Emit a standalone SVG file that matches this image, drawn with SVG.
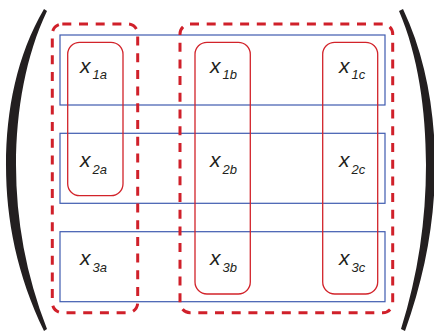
<svg xmlns="http://www.w3.org/2000/svg" width="434" height="331" viewBox="0 0 434 331">
<style>
.row{fill:none;stroke:#3f5bb0;stroke-width:1.2}
.col{fill:none;stroke:#d2232a;stroke-width:1.3}
.grp{fill:none;stroke:#d0202a;stroke-width:3;stroke-dasharray:9 7.7}
.par{fill:#231f20}
.lbl{font-family:"Liberation Sans",Arial,sans-serif;font-style:italic;font-size:21px;fill:#231f20}
.sub{font-size:13px}
</style>
<rect width="434" height="331" fill="#fff"/>
<g id="parens">
<path class="par" d="M44 9 C17 55 6 110 6 165 C6 220 17 275 44 331 L47 329 C26 275 16 220 16 165 C16 110 26 55 47 11 Z"/>
<path class="par" d="M403 9 C425 55 435 110 435 165 C435 220 425 275 405 331 L401 329 C418 275 426 220 426 165 C426 110 418 55 399 11 Z"/>
</g>
<g id="rows">
<rect id="row1" class="row" x="60" y="35" width="325" height="70"/>
<rect id="row2" class="row" x="60" y="133.3" width="325" height="70"/>
<rect id="row3" class="row" x="60" y="231.7" width="325" height="70"/>
</g>
<g id="cols">
<rect id="cola" class="col" x="67.7" y="42.3" width="55.3" height="153.4" rx="12"/>
<rect id="colb" class="col" x="195" y="42.3" width="55.3" height="251.7" rx="12"/>
<rect id="colc" class="col" x="322.7" y="42.3" width="55" height="251.7" rx="12"/>
</g>
<g id="groups">
<rect id="groupA" class="grp" x="52.3" y="24" width="85.4" height="288.7" rx="10"/>
<rect id="groupBC" class="grp" x="180" y="24" width="212.7" height="288.7" rx="10"/>
</g>
<g id="labels">
<text class="lbl" x="80" y="73">x<tspan class="sub" dx="2" dy="6">1a</tspan></text>
<text class="lbl" x="210" y="73">x<tspan class="sub" dx="2" dy="6">1b</tspan></text>
<text class="lbl" x="339" y="73">x<tspan class="sub" dx="2" dy="6">1c</tspan></text>
<text class="lbl" x="80" y="167">x<tspan class="sub" dx="2" dy="7">2a</tspan></text>
<text class="lbl" x="210" y="167">x<tspan class="sub" dx="2" dy="7">2b</tspan></text>
<text class="lbl" x="339" y="167">x<tspan class="sub" dx="2" dy="7">2c</tspan></text>
<text class="lbl" x="80" y="265">x<tspan class="sub" dx="2" dy="7">3a</tspan></text>
<text class="lbl" x="210" y="265">x<tspan class="sub" dx="2" dy="7">3b</tspan></text>
<text class="lbl" x="339" y="265">x<tspan class="sub" dx="2" dy="7">3c</tspan></text>
</g>
</svg>
